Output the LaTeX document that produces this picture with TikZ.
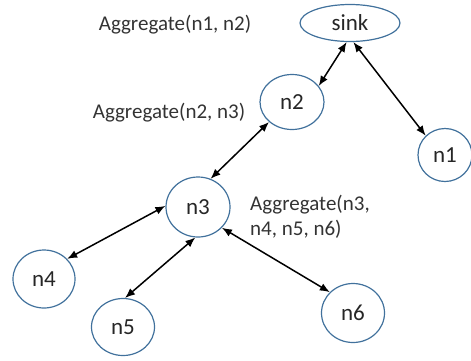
\documentclass[tikz,border=0pt]{standalone}
\usepackage{fontspec}
\setmainfont{Carlito}
\usetikzlibrary{shapes.geometric,arrows.meta}
\definecolor{outl}{HTML}{41719C}
\begin{document}
\begin{tikzpicture}[x=1pt,y=-1pt,
  nd/.style={ellipse,draw=outl,line width=1.2pt,inner sep=0pt,font=\fontsize{23}{27}\selectfont,text=black!85},
  lbl/.style={font=\fontsize{21}{25}\selectfont,inner sep=0pt,text=black!80},
  link/.style={line width=1.5pt,{Latex[length=10pt,width=8pt]}-{Latex[length=10pt,width=8pt]}}]
\useasboundingbox (0,0) rectangle (471,360);
\node[nd,minimum width=100pt,minimum height=37pt] (sink) at (350,23) {sink};
\node[nd,minimum width=64pt,minimum height=55pt] (n2) at (292,102) {n2};
\node[nd,minimum width=54pt,minimum height=53pt] (n1) at (445,155) {n1};
\node[nd,minimum width=64pt,minimum height=60pt] (n3) at (198,207) {n3};
\node[nd,minimum width=62pt,minimum height=58pt] (n4) at (44,279) {n4};
\node[nd,minimum width=63pt,minimum height=57pt] (n5) at (123,327) {n5};
\node[nd,minimum width=63pt,minimum height=59pt] (n6) at (353,313) {n6};
\node[lbl] (l1) at (175,25) {Aggregate(n1, n2)};
\node[lbl] (l2) at (169,113) {Aggregate(n2, n3)};
\node[lbl,anchor=north west,align=left] (l3) at (250,195) {Aggregate(n3,\\n4, n5, n6)};
\draw[link] (sink.-100) -- (n2.31);
\draw[link] (sink.-80) -- (n1.135);
\draw[link] (n2.221) -- (n3.66);
\draw[link] (n3.178) -- (n4.41);
\draw[link] (n3.-95) -- (n5.86);
\draw[link] (n3.-41) -- (n6.138);
\end{tikzpicture}
\end{document}
